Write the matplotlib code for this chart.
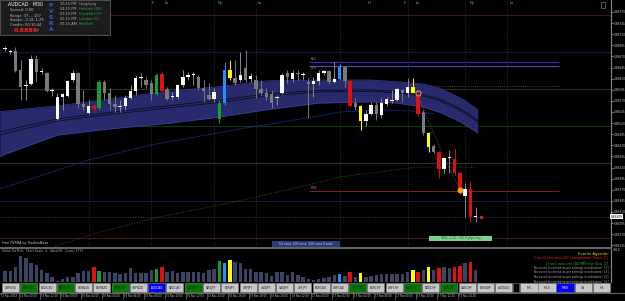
import matplotlib
matplotlib.use("Agg")
import matplotlib.pyplot as plt
from matplotlib.patches import Rectangle
import pandas as pd

plt.rcParams['font.family'] = ['DejaVu Sans']

# AUDCAD M30, prices in points (1e-5)
opens = [89687, 89680, 89682, 89640, 89604, 89608, 89664, 89635, 89633, 89592,
         89529, 89579, 89581, 89617, 89633, 89563, 89543, 89559, 89554, 89613,
         89588, 89563, 89556, 89559, 89577, 89592, 89622, 89617, 89610, 89586,
         89631, 89597, 89579, 89579, 89606, 89624, 89628, 89624, 89599, 89583,
         89574, 89529, 89565, 89640, 89622, 89617, 89644, 89619, 89617, 89597,
         89588, 89586, 89577, 89588, 89633, 89619, 89633, 89628, 89613, 89608,
         89615, 89633, 89637, 89613, 89619, 89646, 89615, 89565, 89559, 89525,
         89541, 89561, 89538, 89563, 89570, 89572, 89595, 89588, 89588, 89581,
         89543, 89498, 89469, 89455, 89417, 89442, 89439, 89408, 89356, 89372,
         89309]
highs = [89694, 89685, 89691, 89662, 89617, 89673, 89673, 89644, 89635, 89599,
         89588, 89588, 89617, 89640, 89635, 89595, 89572, 89563, 89617, 89617,
         89599, 89583, 89572, 89583, 89606, 89628, 89633, 89624, 89617, 89633,
         89635, 89601, 89590, 89608, 89640, 89635, 89635, 89628, 89617, 89610,
         89599, 89572, 89658, 89662, 89662, 89680, 89685, 89633, 89628, 89617,
         89599, 89595, 89583, 89633, 89640, 89640, 89640, 89635, 89622, 89624,
         89640, 89640, 89640, 89658, 89653, 89649, 89617, 89577, 89561, 89550,
         89568, 89568, 89577, 89579, 89595, 89599, 89597, 89622, 89622, 89588,
         89550, 89500, 89473, 89457, 89444, 89460, 89464, 89410, 89385, 89390,
         89331]
lows = [89682, 89676, 89635, 89572, 89572, 89606, 89613, 89631, 89590, 89581,
        89527, 89550, 89579, 89613, 89554, 89550, 89541, 89547, 89550, 89572,
        89550, 89545, 89545, 89550, 89574, 89583, 89601, 89599, 89572, 89583,
        89590, 89572, 89572, 89574, 89601, 89617, 89606, 89595, 89568, 89572,
        89568, 89520, 89561, 89617, 89606, 89613, 89613, 89613, 89577, 89583,
        89572, 89554, 89561, 89586, 89610, 89613, 89617, 89617, 89532, 89579,
        89606, 89628, 89608, 89610, 89617, 89601, 89556, 89550, 89505, 89514,
        89538, 89527, 89532, 89559, 89565, 89570, 89568, 89579, 89590, 89536,
        89493, 89455, 89453, 89397, 89408, 89408, 89403, 89358, 89309, 89298,
        89298]
closes = [89688, 89680, 89637, 89601, 89604, 89664, 89635, 89635, 89592, 89592,
          89579, 89586, 89615, 89633, 89563, 89556, 89559, 89552, 89613, 89588,
          89563, 89556, 89559, 89577, 89592, 89622, 89622, 89606, 89586, 89628,
          89592, 89574, 89579, 89606, 89624, 89628, 89628, 89599, 89592, 89574,
          89590, 89565, 89640, 89622, 89610, 89628, 89617, 89626, 89597, 89588,
          89579, 89565, 89577, 89628, 89624, 89633, 89631, 89628, 89608, 89615,
          89633, 89637, 89613, 89619, 89646, 89615, 89559, 89556, 89525, 89541,
          89561, 89541, 89565, 89574, 89570, 89597, 89588, 89601, 89601, 89541,
          89498, 89466, 89455, 89417, 89442, 89442, 89408, 89372, 89372, 89309,
          89309]
# PVSRA coloured candles
pvsra = {17: 'R', 18: 'G', 29: 'G', 30: 'R', 41: 'G', 42: 'B', 43: 'Y',
         64: 'B', 66: 'R', 68: 'Y', 78: 'Y', 79: 'R', 81: 'Y', 83: 'R',
         86: 'R', 87: 'R', 89: 'R'}
volumes = [1650, 1650, 2250, 3900, 3600, 2850, 2550, 1800, 1350, 750,
           150, 450, 750, 750, 1350, 1650, 1650, 2250, 1650, 1500,
           1500, 1350, 1200, 1350, 2100, 1350, 1350, 1350, 1800, 1950,
           2250, 1500, 1650, 1350, 1500, 1500, 1500, 1500, 1350, 1800,
           1950, 3150, 2850, 3300, 3000, 2850, 1950, 1950, 1500, 1500,
           1350, 900, 1500, 1500, 1050, 1500, 1050, 750, 450, 300,
           450, 600, 750, 1050, 1200, 900, 1500, 750, 1350, 750,
           900, 1050, 1200, 1200, 1200, 1200, 1200, 1500, 1800, 1500,
           1800, 2250, 1800, 2100, 2250, 2100, 2250, 2400, 2850, 3000,
           1800]

band_idx = [-1, 0, 10, 20, 30, 40, 50, 60, 70, 75, 80, 83, 86, 88, 90.4]
band_upper = [89545, 89547, 89559, 89574, 89590, 89601, 89615, 89617, 89617,
              89613, 89608, 89599, 89583, 89570, 89550]
band_lower = [89444, 89450, 89493, 89507, 89518, 89532, 89550, 89565, 89568,
              89565, 89556, 89545, 89529, 89516, 89498]
ema100_idx = [-1, 16, 28, 44, 60, 64, 72, 78, 82]
ema100 = [89372, 89437, 89471, 89505, 89536, 89545, 89550, 89547, 89541]
ema200_idx = [9.6, 18.2, 29.6, 43.6, 60.2, 64, 78.8, 88.9, 90]
ema200 = [89243, 89275, 89309, 89342, 89387, 89399, 89421, 89421, 89419]
zz_idx = [79, 84, 87]
zz = [89581, 89442, 89370]

levels = [89763, 89680, 89597, 89513, 89430, 89345, 89261]
level_cols = ['#3a1c14', '#181848', '#2e2e2e', '#0c3a0c', '#2e2e2e', '#181848', '#3a1c14']
sessions = [16, 28, 40, 48, 64, 77, 88, 96]
bid = 89309

P = 1e5
W, H = 625, 301
fig = plt.figure(figsize=(6.25, 3.01), dpi=100, facecolor='black')


def fax(x0, y0, x1, y1):
    return fig.add_axes([x0 / W, 1 - y1 / H, (x1 - x0) / W, (y1 - y0) / H])


col_map = {'R': '#e01010', 'G': '#10a030', 'B': '#1e90ff', 'Y': '#ffff00'}

# main chart
ax = fax(0, 0, 611, 247)
ax.set_facecolor('black')
ax.set_xlim(-0.96, 115.9)
ax.set_ylim(0.892412, 0.89797)
for s in ['top', 'left', 'bottom']:
    ax.spines[s].set_visible(False)
ax.spines['right'].set_color('#8a8a8a')
ax.spines['right'].set_linewidth(0.8)
ax.set_xticks([])
ax.set_yticks([(89770 - 25 * k) / P for k in range(22)])
ax.yaxis.set_major_formatter(matplotlib.ticker.FormatStrFormatter('%.5f'))
ax.tick_params(axis='y', right=True, left=False, labelright=True, labelleft=False,
               labelsize=2.1, colors='#c8c8c8', length=1.2, width=0.5, pad=0.5)

for lv, lc in zip(levels, level_cols):
    ax.axhline(lv / P, color=lc, lw=0.8, zorder=1)
ax.axhline(bid / P, color='#5a5a5a', lw=0.6, ls=(0, (1, 2)), zorder=1)
for s in sessions:
    ax.axvline(s, color='#3c3c3c', lw=0.6, ls=(0, (1, 2)), zorder=1)

# pivot lines
ax.hlines([89658 / P], 58.1, 105.9, color='#3232a0', lw=0.8, zorder=2)
ax.hlines([89649 / P], 58.1, 105.9, color='#4a4ad0', lw=0.8, zorder=2)
ax.hlines([89604 / P], 82.2, 105.9, color='#803a80', lw=0.6, ls=(0, (1, 1.5)), zorder=2)
ax.hlines([89367 / P], 58.1, 105.9, color='#7a1e1e', lw=0.8, zorder=2)
ax.text(58.4, 89660 / P, 'R2H', color='#9a9a9a', fontsize=2, va='bottom')
ax.text(58.4, 89640 / P, 'R1H', color='#9a9a9a', fontsize=2, va='bottom')
ax.text(58.4, 89370 / P, 'ROL', color='#9a9a9a', fontsize=2.4, va='bottom')

# ema band
bu = [v / P for v in band_upper]
bl = [v / P for v in band_lower]
ax.fill_between(band_idx, bl, bu, color='#272b6c', lw=0, zorder=2)
ax.plot(band_idx, bu, color='#3a3fa0', lw=0.5, zorder=2)
ax.plot(band_idx, bl, color='#3a3fa0', lw=0.5, zorder=2)
for f in (0.45, 0.52):
    ax.plot(band_idx, [u - f * (u - l) for u, l in zip(bu, bl)], color='#0c0c1c',
            lw=0.6, zorder=2)
ax.plot(ema100_idx, [v / P for v in ema100], color='#2838d0', lw=0.7,
        ls=(0, (1, 1)), zorder=2)
ax.plot(ema200_idx, [v / P for v in ema200], color='#6a6030', lw=0.6,
        ls=(0, (1, 2)), zorder=2)
ax.plot(zz_idx, [v / P for v in zz], color='#7a7a7a', lw=0.5, ls=(0, (1, 1.5)), zorder=3)

# candles
for i, (o, h, l, c) in enumerate(zip(opens, highs, lows, closes)):
    o, h, l, c = o / P, h / P, l / P, c / P
    if i in pvsra:
        body = col_map[pvsra[i]]
        wick = body
    elif c >= o:
        body, wick = '#ffffff', '#8a8a8a'
    else:
        body, wick = '#7a7a7a', '#7a7a7a'
    ax.vlines(i, l, h, color=wick, lw=0.7, zorder=4)
    ax.bar(i, max(abs(c - o), 2e-5), bottom=min(o, c), width=0.66, color=body,
           lw=0, zorder=5)

ax.plot([79, 87], [89588 / P, 89370 / P], 'o', ms=3.5, mfc='none', mec='#f08050',
        mew=0.9, zorder=6)
ax.plot([87], [89370 / P], 'o', ms=2, color='#ffc000', zorder=6)
ax.plot([91], [bid / P], 's', ms=1, color='#ff2020', zorder=6)
ax.text(1.0, bid / P, '0.89309', transform=ax.get_yaxis_transform(), fontsize=2.1,
        color='black', va='center', ha='left',
        bbox=dict(boxstyle='square,pad=0.2', fc='white', ec='none'), clip_on=False)

# volume sub window
vax = fax(0, 249, 611, 282)
vax.set_facecolor('black')
vax.set_xlim(-0.96, 115.9)
vax.set_ylim(0, 4950)
vcols = [col_map[pvsra[i]] if i in pvsra else '#3b4460' for i in range(len(volumes))]
vax.bar(range(len(volumes)), volumes, width=0.66, color=vcols, lw=0)
for s in ['top', 'left', 'bottom']:
    vax.spines[s].set_visible(False)
vax.spines['right'].set_color('#8a8a8a')
vax.spines['right'].set_linewidth(0.8)
vax.set_xticks([])
vax.set_yticks([])

# time labels
times = pd.date_range('2023-11-15 20:00', '2023-11-17 14:00', freq='2h')
xt = vax.get_xaxis_transform()
vax.text(-0.8, -0.42, '15 Nov 2023', transform=xt, fontsize=1.8, color='#c8c8c8',
         va='center', clip_on=False)
for k, t in enumerate(times):
    vax.text(3 + 4 * k - 0.2, -0.42, t.strftime('%d %b %H:%M'), transform=xt,
             fontsize=1.8, color='#c8c8c8', va='center', clip_on=False)
    vax.plot([3 + 4 * k - 0.4] * 2, [-0.3, -0.52], transform=xt, color='#8a8a8a',
             lw=0.4, clip_on=False)

# overlay for terminal widgets
ov = fig.add_axes([0, 0, 1, 1])
ov.set_xlim(0, W)
ov.set_ylim(H, 0)
ov.axis('off')
ov.patch.set_alpha(0)

ov.plot([0, 611], [248, 248], color='#7a7a7a', lw=1.2)
ov.plot([0, 625], [293, 293], color='#7a7a7a', lw=0.6)

# info panel
ov.add_patch(Rectangle((0, 0), 110, 35, fc='#1c1c1c', ec='#5a5a5a', lw=0.6))
ov.text(8, 4.5, 'AUDCAD   M30', color='white', fontsize=3.4, va='center')
info = ['Spread: 0.80', 'Range: 37 ... 107', 'Swaps: -2.18, 1.29', 'Candle: 00:10:44']
for k, t in enumerate(info):
    ov.text(10, 10.5 + 5 * k, t, color='#b4b8c8', fontsize=2.6, va='center')
ov.text(14, 31, '0.8889', color='#ff2020', fontsize=4.5, fontweight='bold', va='center')
ov.text(37, 31.5, 'P', color='#909090', fontsize=2.4, va='center')
for k, ch in enumerate('PVSRA'):
    ov.text(51, 5.5 + 6 * k, ch, color='#3a5ad8', fontsize=4.2, fontweight='bold',
            va='center', ha='center')
times_s = ['10:15 PM', '04:15 PM', '03:15 PM', '02:15 PM', '05:15 AM']
names = ['HongKong', 'Helsinki (EU)', 'Frankfurt (F)', 'London (G)', 'NewYork']
for k, (t, n) in enumerate(zip(times_s, names)):
    ov.text(60, 4 + 5 * k, t, color='#b0b0b0', fontsize=2.5, va='center')
    ov.text(79, 4 + 5 * k, n, color='#9a9a9a' if k == 0 else '#20b040',
            fontsize=2.5, va='center')

# session tags
for x, t in [(152, 'F'), (165, 'Lo'), (218, 'Ny'), (258, 'Lo'), (368, 'H'),
             (404, 'F'), (416, 'Lo'), (470, 'Ny'), (510, 'Lo')]:
    ov.text(x, 3, t, color='#a0a0a0', fontsize=2.6, va='center')
ov.add_patch(Rectangle((601, 2), 4, 6, fc='none', ec='#7a7a7a', lw=0.5))

ov.text(2, 243, 'Free PVSRA by TradersBase', color='#d0d0d0', fontsize=2.4, va='center')
ov.add_patch(Rectangle((272, 241), 68, 6, fc='#2a3a7a', ec='none'))
ov.text(306, 244, '50 ema, 100 ema, 200 ema Trends', color='#c8d0f0', fontsize=2.2,
        va='center', ha='center')
ov.add_patch(Rectangle((429, 235.5), 63, 5.5, fc='#7ed38a', ec='none'))
ov.text(460.5, 238.3, 'SELL 1.10, +45.0 pips key', color='#205030', fontsize=2.2,
        va='center', ha='center')
ov.text(2, 251.5, 'Strike Tot Pick:  Chart Scale: 4,  IdentOff,  Count: 1731',
        color='#b0b0b0', fontsize=2.2, va='center')
ov.text(613, 250, '4912', color='#c8c8c8', fontsize=2.2, va='center')

# events agenda
ov.text(608, 254, 'Events Agenda:', color='#e8d800', fontsize=2.8, va='center', ha='right')
ev = [('6 hrs 53 mins since USD Unemployment Claims  [1]', '#ff2020'),
      ('[3 hrs 5 mins until CAD RMPI m/m (Oct)  [2]', '#20c020'),
      ('No event to remind as per settings in indicators!  [3]', '#b0b0b0'),
      ('No event to remind as per settings in indicators!  [4]', '#b0b0b0'),
      ('No event to remind as per settings in indicators!  [5]', '#b0b0b0'),
      ('No event to remind as per settings in indicators!  [6]', '#b0b0b0')]
for k, (t, c) in enumerate(ev):
    ov.text(608, 258.5 + 4.6 * k, t, color=c, fontsize=2.1, va='center', ha='right')

# symbol buttons
pairs = ['GBPUSD', 'EURUSD', 'AUDUSD', 'NZDUSD', 'EURAUD', 'EURNZD', 'GBPAUD',
         'GBPNZD', 'AUDCAD', 'NZDCAD', 'AUDJPY', 'NZDJPY', 'EURJPY', 'GBPJPY',
         'USDJPY', 'CADJPY', 'CHFJPY', 'EURCAD', 'GBPCAD', 'USDCAD', 'EURCHF',
         'GBPCHF', 'AUDCHF', 'NZDCHF', 'USDCHF', 'CADCHF', 'EURGBP', 'AUDNZD']
green_pairs = {'EURUSD', 'NZDUSD', 'GBPAUD', 'AUDJPY', 'USDCAD', 'AUDCHF', 'USDCHF'}
for k, p in enumerate(pairs):
    x0 = 2 + k * 18.27
    if p == 'AUDCAD':
        fc, tc = '#0000ff', 'white'
    elif p in green_pairs:
        fc, tc = '#007a00', '#101010'
    else:
        fc, tc = '#c8c8c8', '#202020'
    ov.add_patch(Rectangle((x0, 283), 17, 9, fc=fc, ec='#8a8a8a', lw=0.4))
    ov.text(x0 + 8.5, 287.6, p, color=tc, fontsize=2.1, va='center', ha='center')
ov.add_patch(Rectangle((513, 283), 6, 9, fc='black', ec='#8a8a8a', lw=0.4))
for k, t in enumerate(['M5', 'M15', 'M30', 'H1', 'H4']):
    x0 = 520 + k * 18.2
    fc, tc = ('#0000ff', 'white') if t == 'M30' else ('#c8c8c8', '#202020')
    ov.add_patch(Rectangle((x0, 283), 17.5, 9, fc=fc, ec='#8a8a8a', lw=0.4))
    ov.text(x0 + 8.75, 287.6, t, color=tc, fontsize=2.3, va='center', ha='center')

fig.savefig('out.png', dpi=100, facecolor='black')
